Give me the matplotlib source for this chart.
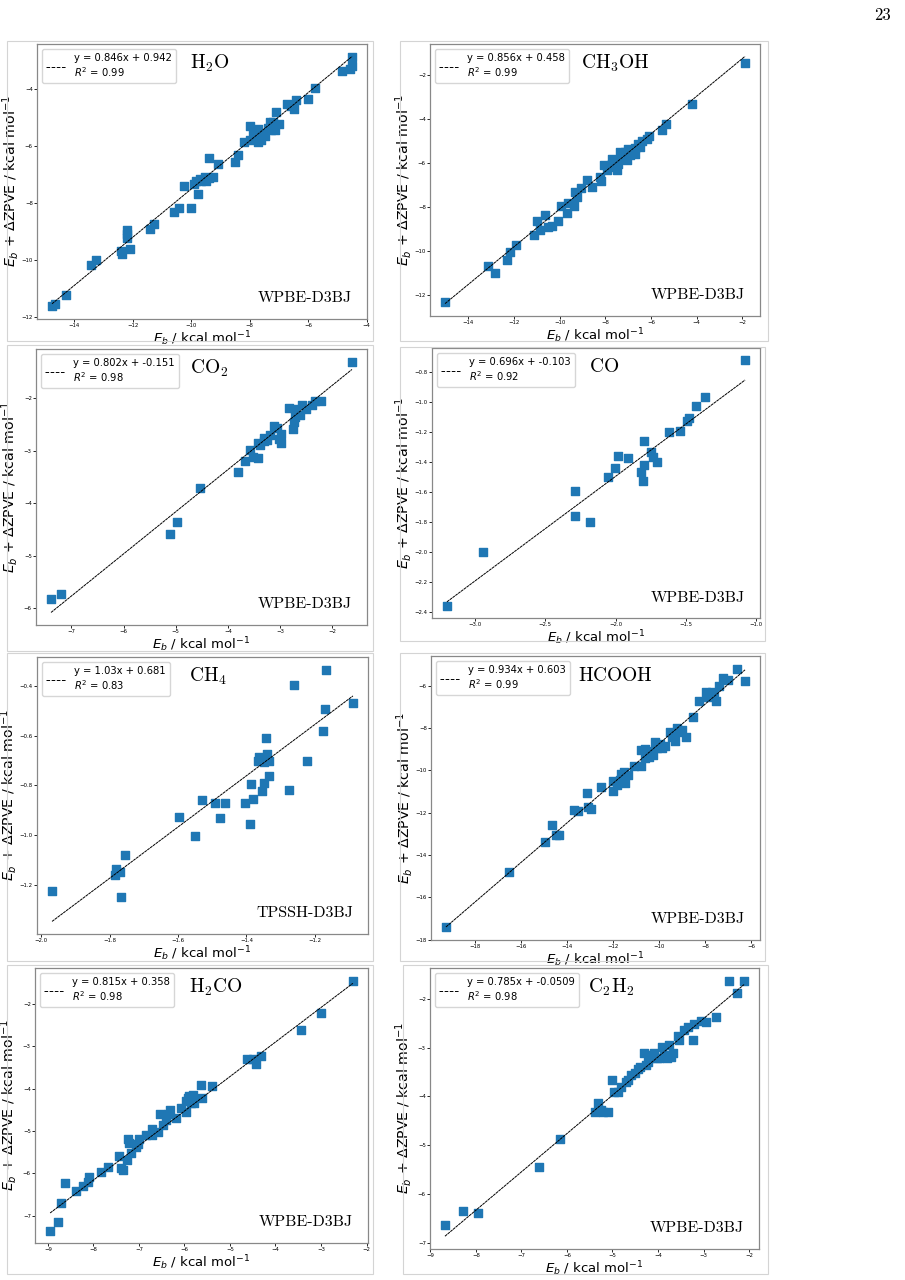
import matplotlib
matplotlib.use("Agg")
import matplotlib.pyplot as plt
from matplotlib.patches import Rectangle
from matplotlib.ticker import MultipleLocator
import numpy as np

# molecule names and methods
molecules = [r"$\mathrm{H_2O}$", r"$\mathrm{CH_3OH}$", r"$\mathrm{CO_2}$", r"$\mathrm{CO}$",
             r"$\mathrm{CH_4}$", r"$\mathrm{HCOOH}$", r"$\mathrm{H_2CO}$", r"$\mathrm{C_2H_2}$"]
methods = ["WPBE-D3BJ", "WPBE-D3BJ", "WPBE-D3BJ", "WPBE-D3BJ",
           "TPSSH-D3BJ", "WPBE-D3BJ", "WPBE-D3BJ", "WPBE-D3BJ"]
slopes = [0.846, 0.856, 0.802, 0.696, 1.03, 0.934, 0.815, 0.785]
intercepts = [0.942, 0.458, -0.151, -0.103, 0.681, 0.603, 0.358, -0.0509]
r2 = [0.99, 0.99, 0.98, 0.92, 0.83, 0.99, 0.98, 0.98]

h2o_x = [-14.76, -14.65, -14.27, -13.42, -13.26, -12.40, -12.35, -12.19, -12.19, -12.19, -12.09,
         -11.41, -11.26, -10.58, -10.42, -10.01, -10.25, -9.90, -9.78, -9.85, -9.70, -9.53, -9.40,
         -9.65, -9.48, -9.25, -9.08, -9.40, -8.49, -8.40, -8.20, -7.98, -7.89, -7.81, -7.72, -7.60,
         -7.49, -7.38, -7.31, -7.20, -7.15, -7.01, -8.00, -7.72, -7.55, -7.28, -7.09, -6.73, -6.60,
         -6.47, -6.43, -6.01, -5.78, -4.85, -4.57, -4.50, -4.50]
h2o_y = [-11.64, -11.55, -11.23, -10.19, -10.02, -9.70, -9.79, -8.95, -9.09, -9.24, -9.61,
         -8.92, -8.75, -8.32, -8.20, -8.19, -7.40, -7.33, -7.70, -7.25, -7.17, -7.10, -7.13,
         -7.25, -7.25, -7.08, -6.63, -6.43, -6.56, -6.32, -5.85, -5.30, -5.50, -5.67, -5.42, -5.79,
         -5.67, -5.38, -5.15, -5.15, -5.44, -5.23, -5.79, -5.85, -5.56, -5.46, -4.80, -4.53, -4.62,
         -4.70, -4.39, -4.35, -3.98, -3.36, -3.31, -3.19, -2.89]

ch3oh_x = [-15.02, -13.12, -12.83, -12.29, -12.18, -11.91, -11.11, -11.01, -10.86, -10.64, -10.53,
           -10.35, -10.06, -9.94, -9.69, -9.65, -9.37, -9.33, -9.23, -9.07, -8.82, -8.60, -8.23,
           -8.19, -8.04, -7.94, -7.72, -7.58, -7.43, -7.36, -7.26, -7.14, -7.00, -6.85, -6.70,
           -6.55, -6.41, -6.19, -6.09, -7.72, -7.43, -7.07, -6.92, -6.70, -6.48, -7.50,
           -5.53, -5.36, -4.18, -1.88]
ch3oh_y = [-12.32, -10.69, -10.99, -10.42, -10.05, -9.71, -9.26, -8.63, -9.04, -8.39, -8.93,
           -8.89, -8.66, -7.95, -8.29, -7.83, -7.94, -7.34, -7.53, -7.16, -6.78, -7.11, -6.63,
           -6.83, -6.11, -6.33, -6.03, -6.18, -5.88, -5.50, -5.73, -5.50, -5.38, -5.50, -5.32,
           -5.13, -4.98, -4.90, -4.78, -5.80, -6.03, -5.88, -5.65, -5.58, -5.28, -6.33,
           -4.48, -4.23, -3.32, -1.47]

co2_x = [-7.39, -7.20, -5.10, -4.97, -4.53, -3.80, -3.68, -3.58, -3.51, -3.43, -3.38, -3.31,
         -3.24, -3.20, -3.11, -3.06, -3.01, -2.99, -2.99, -2.83, -2.76, -2.73, -2.72, -2.71,
         -2.61, -2.57, -2.51, -2.38, -2.32, -2.22, -3.43, -3.31, -1.62]
co2_y = [-5.82, -5.73, -4.59, -4.36, -3.70, -3.41, -3.19, -2.99, -3.11, -3.13, -2.89, -2.81,
         -2.80, -2.70, -2.53, -2.56, -2.77, -2.86, -2.68, -2.18, -2.59, -2.46, -2.35, -2.21,
         -2.32, -2.13, -2.21, -2.13, -2.06, -2.06, -2.85, -2.76, -1.30]

co_x = [-3.20, -2.946, -2.29, -2.288, -2.182, -2.054, -2.002, -1.979, -1.908, -1.821, -1.807,
        -1.797, -1.797, -1.75, -1.731, -1.708, -1.62, -1.538, -1.491, -1.474, -1.425, -1.366, -1.078]
co_y = [-2.356, -1.996, -1.762, -1.589, -1.798, -1.50, -1.442, -1.362, -1.373, -1.469, -1.524,
        -1.422, -1.258, -1.333, -1.367, -1.402, -1.20, -1.191, -1.129, -1.107, -1.029, -0.967, -0.722]

ch4_x = [-1.968, -1.780, -1.783, -1.770, -1.768, -1.754, -1.596, -1.551, -1.530, -1.491, -1.476,
         -1.463, -1.405, -1.391, -1.387, -1.381, -1.366, -1.362, -1.356, -1.349, -1.349, -1.342,
         -1.340, -1.335, -1.335, -1.277, -1.262, -1.223, -1.177, -1.171, -1.167, -1.089]
ch4_y = [-1.225, -1.134, -1.159, -1.146, -1.249, -1.080, -0.925, -1.005, -0.859, -0.869, -0.932,
         -0.870, -0.870, -0.956, -0.793, -0.853, -0.701, -0.684, -0.822, -0.789, -0.705, -0.609,
         -0.672, -0.763, -0.704, -0.820, -0.397, -0.701, -0.582, -0.492, -0.335, -0.470]

hcooh_x = [-19.27, -16.54, -14.98, -14.66, -14.47, -14.37, -13.70, -13.53, -13.12, -13.09, -12.95,
           -12.54, -12.00, -12.00, -11.83, -11.71, -11.67, -11.49, -11.52, -11.35, -11.10, -10.80,
           -10.77, -10.60, -10.60, -10.45, -10.33, -10.26, -10.16, -10.11, -9.97, -9.87, -9.75,
           -9.53, -9.43, -9.31, -9.20, -9.12, -9.02, -8.81, -8.52, -8.27, -7.94, -7.89, -7.71,
           -7.60, -7.54, -7.40, -7.21, -6.99, -6.63, -6.26]
hcooh_y = [-17.40, -14.78, -13.36, -12.59, -13.07, -13.03, -11.85, -11.92, -11.06, -11.74, -11.80,
           -10.78, -10.52, -10.95, -10.69, -10.45, -10.18, -10.61, -10.09, -10.21, -9.81, -9.81,
           -9.01, -8.97, -9.41, -9.38, -9.09, -9.25, -8.64, -8.93, -8.77, -8.93, -8.85,
           -8.20, -8.41, -8.60, -8.01, -8.20, -8.09, -8.41, -7.48, -6.71, -6.27, -6.51, -6.27,
           -6.35, -6.71, -6.00, -5.63, -5.71, -5.20, -5.79]

h2co_x = [-8.95, -8.78, -8.71, -8.63, -8.39, -8.22, -8.12, -8.10, -7.83, -7.67, -7.44, -7.40,
          -7.34, -7.26, -7.25, -7.22, -7.17, -7.06, -7.02, -6.99, -6.85, -6.71, -6.71, -6.58,
          -6.53, -6.47, -6.40, -6.36, -6.31, -6.18, -6.07, -5.97, -5.96, -5.92, -5.89, -5.85,
          -5.81, -5.78, -5.63, -5.61, -5.39, -4.63, -4.49, -4.42, -4.31, -3.43, -3.01, -2.30]
h2co_y = [-7.35, -7.15, -6.71, -6.22, -6.41, -6.29, -6.20, -6.09, -5.96, -5.85, -5.59, -5.87,
          -5.92, -5.69, -5.18, -5.28, -5.51, -5.38, -5.30, -5.18, -5.10, -4.96, -5.10, -5.02,
          -4.61, -4.85, -4.75, -4.61, -4.51, -4.69, -4.47, -4.30, -4.55, -4.22, -4.17, -4.35,
          -4.15, -4.33, -3.92, -4.22, -3.94, -3.30, -3.31, -3.41, -3.22, -2.61, -2.21, -1.45]

c2h2_x = [-8.68, -8.29, -7.96, -6.62, -6.15, -5.38, -5.32, -5.26, -5.21, -5.10, -5.00, -4.97,
          -4.88, -4.82, -4.70, -4.66, -4.59, -4.50, -4.45, -4.39, -4.30, -4.26, -4.21, -4.17,
          -4.14, -4.08, -4.02, -3.97, -3.92, -3.86, -3.80, -3.75, -3.72, -3.68, -3.55, -3.53,
          -3.42, -3.35, -3.24, -3.22, -3.06, -2.95, -2.73, -2.44, -2.26, -2.11]
c2h2_y = [-6.63, -6.34, -6.38, -5.45, -4.88, -4.32, -4.14, -4.27, -4.31, -4.32, -3.66, -3.90,
          -3.90, -3.80, -3.70, -3.66, -3.57, -3.53, -3.44, -3.39, -3.12, -3.36, -3.29, -3.22,
          -3.15, -3.10, -3.21, -3.22, -2.98, -3.15, -3.22, -2.94, -3.19, -3.10, -2.76, -2.85,
          -2.63, -2.58, -2.85, -2.51, -2.46, -2.47, -2.37, -1.64, -1.88, -1.63]

xs = [h2o_x, ch3oh_x, co2_x, co_x, ch4_x, hcooh_x, h2co_x, c2h2_x]
ys = [h2o_y, ch3oh_y, co2_y, co_y, ch4_y, hcooh_y, h2co_y, c2h2_y]
x_steps = [2, 2, 1, 0.5, 0.2, 2, 1, 1]
y_steps = [2, 2, 1, 0.2, 0.2, 2, 1, 1]

W, H = 905, 1280
fig = plt.figure(figsize=(W / 100, H / 100), dpi=100)

# axes boxes in pixels: left, top, right, bottom
boxes = [(37, 44, 367, 319), (430, 44, 760, 316),
         (36, 349, 367, 625), (432, 348, 760, 618),
         (37, 657, 368, 934), (431, 656, 760, 940),
         (35, 968, 368, 1243), (430, 968, 759, 1249)]
# light frames around each panel
frames = [(7, 41, 373, 341), (400, 41, 768, 341),
          (7, 345, 373, 651), (400, 347, 765, 641),
          (7, 653, 373, 961), (400, 653, 765, 961),
          (7, 965, 373, 1274), (403, 965, 768, 1274)]
name_x = [0.465, 0.457, 0.466, 0.48, 0.459, 0.446, 0.463, 0.48]

for (fl, ft, fr, fb) in frames:
    fig.patches.append(Rectangle((fl / W, 1 - fb / H), (fr - fl) / W, (fb - ft) / H,
                                 transform=fig.transFigure, fill=False,
                                 edgecolor="#d4d4d4", linewidth=0.8))

for i in range(8):
    l, t, r, b = boxes[i]
    ax = fig.add_axes([l / W, 1 - b / H, (r - l) / W, (b - t) / H])
    x = np.array(xs[i])
    y = np.array(ys[i])
    ax.scatter(x, y, marker="s", s=30, color="#1f77b4", zorder=2)
    xl = np.array([x.min(), x.max()])
    lab = f"y = {slopes[i]:.3g}x + {intercepts[i]:.3g}\n$R^2$ = {r2[i]:.2f}"
    ax.plot(xl, slopes[i] * xl + intercepts[i], color="black", linestyle=(0, (3, 0.6)),
            linewidth=0.7, label=lab, zorder=3)
    leg = ax.legend(loc="upper left", fontsize=7.2, handlelength=2.0)
    leg.legend_handles[0].set_linestyle("--")
    ax.xaxis.set_major_locator(MultipleLocator(x_steps[i]))
    ax.yaxis.set_major_locator(MultipleLocator(y_steps[i]))
    ax.tick_params(labelsize=3.9, length=2, width=0.6, pad=1)
    for sp in ax.spines.values():
        sp.set_color("#888888")
        sp.set_linewidth(0.9)
    ax.set_xlabel(r"$E_b$ / kcal mol$^{-1}$", fontsize=9.5)
    ax.set_ylabel(r"$E_b$ + $\Delta$ZPVE / kcal mol$^{-1}$", fontsize=10.2)
    ax.xaxis.set_label_coords(0.5, -10 / (b - t))
    ax.xaxis.label.set_va("top")
    ygap = 18 if y_steps[i] < 1 else 16
    ax.yaxis.set_label_coords(-ygap / (r - l), 0.5)
    ax.text(name_x[i], 0.93, molecules[i], transform=ax.transAxes, fontsize=14,
            ha="left", va="center", math_fontfamily="cm")
    ax.text(0.955, 0.075, methods[i], transform=ax.transAxes, fontsize=11.5,
            ha="right", va="center", family="cmr10")

fig.text(882 / W, 1 - 15 / H, "23", fontsize=12, family="cmr10", ha="center", va="center")

fig.savefig("out.png", dpi=100)
